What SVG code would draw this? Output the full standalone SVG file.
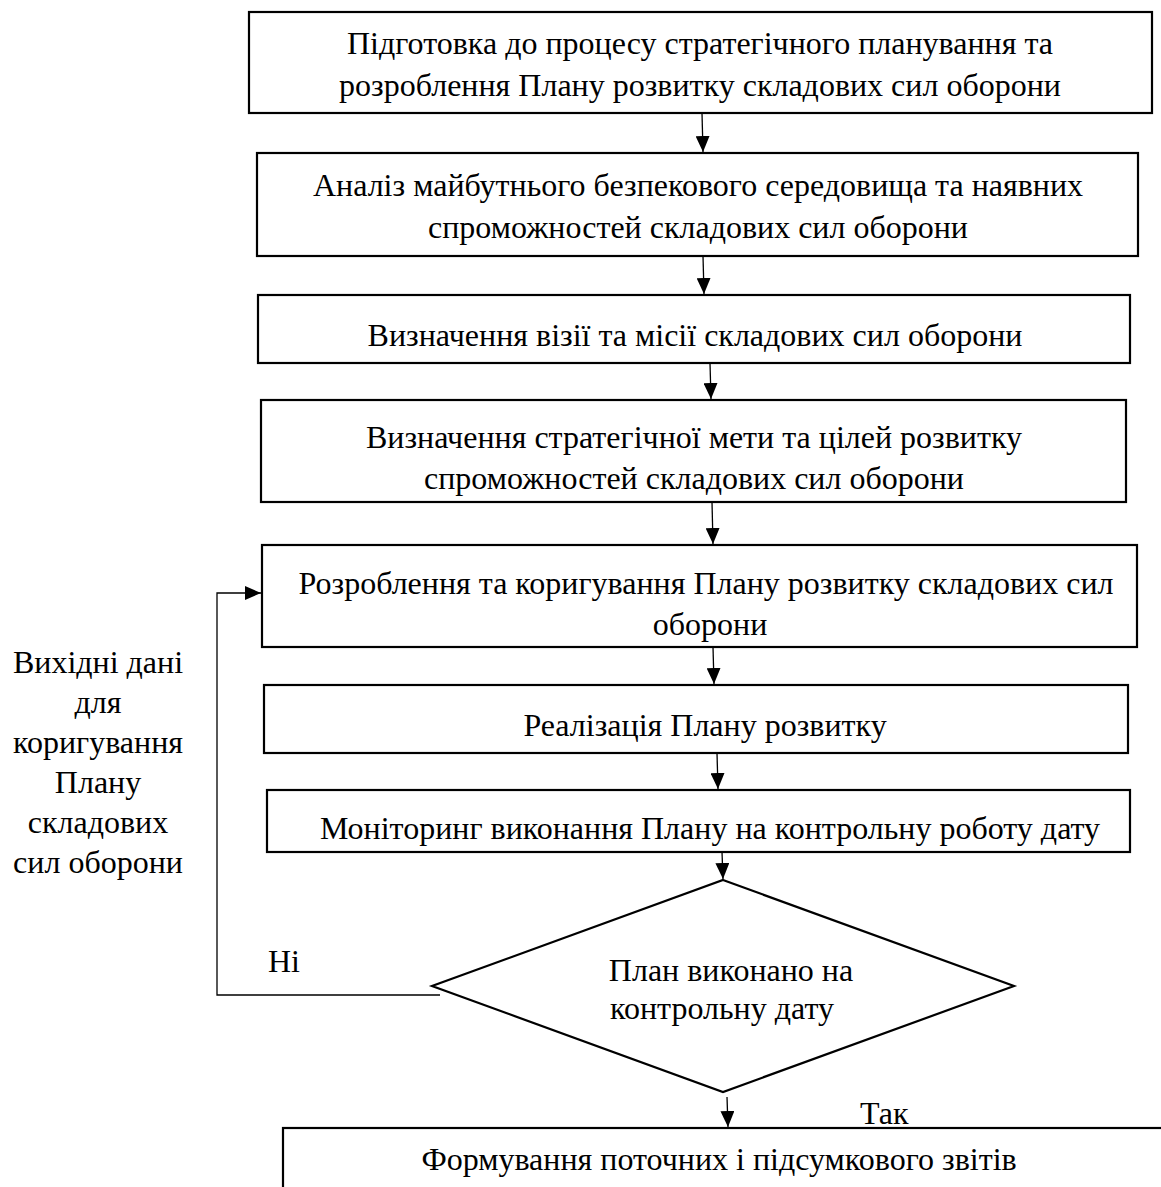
<svg xmlns="http://www.w3.org/2000/svg" width="1161" height="1187" viewBox="0 0 1161 1187">
<style>
.box{fill:#fff;stroke:#000;stroke-width:2.2}
.t{font-family:"Liberation Serif","Times New Roman",serif;font-size:32px;fill:#000;text-anchor:middle}
.tl{font-family:"Liberation Serif","Times New Roman",serif;font-size:32px;fill:#000}
.c{fill:none;stroke:#000;stroke-width:1.3}
</style>
<defs>
<marker id="ah" markerUnits="userSpaceOnUse" markerWidth="16" markerHeight="14" refX="16" refY="7" orient="auto">
<path d="M0,0 L16,7 L0,14 z" fill="#000"/>
</marker>
</defs>
<rect width="1161" height="1187" fill="#fff"/>
<g id="connectors">
<line class="c" x1="702" y1="113" x2="703" y2="152" marker-end="url(#ah)"/>
<line class="c" x1="703" y1="256" x2="704" y2="294" marker-end="url(#ah)"/>
<line class="c" x1="710" y1="363" x2="711" y2="399" marker-end="url(#ah)"/>
<line class="c" x1="712" y1="502" x2="713" y2="544" marker-end="url(#ah)"/>
<line class="c" x1="713" y1="647" x2="714" y2="684" marker-end="url(#ah)"/>
<line class="c" x1="717" y1="753" x2="718" y2="789" marker-end="url(#ah)"/>
<line class="c" x1="722" y1="852" x2="723" y2="879" marker-end="url(#ah)"/>
<line class="c" x1="727" y1="1097" x2="728" y2="1127" marker-end="url(#ah)"/>
<polyline class="c" points="440,995 217,995 217,593 261,593" marker-end="url(#ah)"/>
</g>
<g id="n1">
<rect class="box" x="249" y="12" width="903" height="101"/>
<text class="t" x="700" y="54">Підготовка до процесу стратегічного планування та</text>
<text class="t" x="700" y="96">розроблення Плану розвитку складових сил оборони</text>
</g>
<g id="n2">
<rect class="box" x="257" y="153" width="881" height="103"/>
<text class="t" x="698" y="196">Аналіз майбутнього безпекового середовища та наявних</text>
<text class="t" x="698" y="238">спроможностей складових сил оборони</text>
</g>
<g id="n3">
<rect class="box" x="258" y="295" width="872" height="68"/>
<text class="t" x="695" y="346">Визначення візії та місії складових сил оборони</text>
</g>
<g id="n4">
<rect class="box" x="261" y="400" width="865" height="102"/>
<text class="t" x="694" y="448">Визначення стратегічної мети та цілей розвитку</text>
<text class="t" x="694" y="489">спроможностей складових сил оборони</text>
</g>
<g id="n5">
<rect class="box" x="262" y="545" width="875" height="102"/>
<text class="t" x="706" y="594">Розроблення та коригування Плану розвитку складових сил</text>
<text class="t" x="710" y="635">оборони</text>
</g>
<g id="n6">
<rect class="box" x="264" y="685" width="864" height="68"/>
<text class="t" x="705" y="736">Реалізація Плану розвитку</text>
</g>
<g id="n7">
<rect class="box" x="267" y="790" width="863" height="62"/>
<text class="t" x="710" y="839">Моніторинг виконання Плану на контрольну роботу дату</text>
</g>
<g id="n8">
<polygon class="box" points="723,880 1014,986 723,1092 432,986"/>
<text class="t" x="731" y="981">План виконано на</text>
<text class="t" x="722" y="1019">контрольну дату</text>
</g>
<g id="n9">
<rect class="box" x="283" y="1128" width="900" height="80"/>
<text class="t" x="719" y="1170">Формування поточних і підсумкового звітів</text>
</g>
<g id="labels">
<text class="t" x="98" y="673">Вихідні дані</text>
<text class="t" x="98" y="713">для</text>
<text class="t" x="98" y="753">коригування</text>
<text class="t" x="98" y="793">Плану</text>
<text class="t" x="98" y="833">складових</text>
<text class="t" x="98" y="873">сил оборони</text>
<text class="tl" x="268" y="972">Ні</text>
<text class="tl" x="860" y="1124">Так</text>
</g>
</svg>
